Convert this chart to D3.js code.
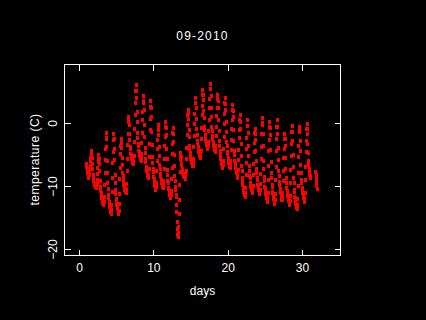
<!DOCTYPE html>
<html><head><meta charset="utf-8">
<script src="https://cdn.jsdelivr.net/npm/d3@7"></script>
<style>
html,body{margin:0;padding:0;background:#000;}
svg{display:block;}
text{font-family:"Liberation Sans",Arial,Helvetica,sans-serif;fill:#fff;font-size:12px;}
</style>
</head><body>
<svg id="chart" width="426" height="320"></svg>
<script>
// ---- data ----
const chartTitle = "09-2010";
const xLabel = "days";
const yLabel = "temperature (C)";
const xTicks = [0, 10, 20, 30];
const yTicks = [-20, -10, 0];
// hourly readings, the first one at day 0.875 (21:00 on day 0)
const startDay = 0.875;
const hourlyTemps = [
  -6.4,-6.9,-7.3,
  -7.6,-7.9,-7.8,-8.3,-8.4,-8.6,-8.2,-8.0,-7.3,-6.8,-5.9,-5.4,-4.6,-4.4,-4.9,-5.4,-6.5,-7.3,-8.2,-8.4,-9.0,-9.2,-9.5,-9.6,
  -9.8,-9.9,-10.1,-10.0,-10.2,-10.3,-10.1,-9.6,-8.9,-8.0,-7.0,-6.1,-5.4,-5.0,-5.7,-6.4,-7.6,-9.1,-10.0,-10.7,-11.1,-11.6,-11.8,-12.1,
  -12.3,-12.5,-12.6,-12.7,-12.9,-13.0,-12.4,-11.7,-9.8,-7.9,-5.8,-4.1,-2.3,-1.5,-2.5,-3.7,-6.0,-7.8,-9.5,-10.4,-11.3,-11.9,-12.5,-12.8,
  -13.3,-13.4,-13.6,-13.9,-14.1,-14.3,-13.7,-12.9,-10.8,-8.7,-6.3,-4.5,-2.6,-1.6,-2.4,-4.0,-5.8,-8.1,-9.4,-10.6,-11.2,-12.0,-12.3,-12.9,
  -13.1,-13.5,-13.6,-14.0,-14.2,-14.4,-13.9,-12.8,-11.2,-8.8,-7.0,-4.9,-3.5,-2.4,-3.1,-3.9,-5.4,-6.6,-7.8,-8.3,-9.0,-9.3,-9.8,-10.0,
  -10.2,-10.5,-10.6,-10.8,-10.9,-11.1,-10.4,-9.6,-7.6,-5.7,-3.4,-1.7,0.2,1.1,0.5,-0.2,-1.6,-2.6,-3.7,-4.1,-4.8,-5.0,-5.5,-5.6,
  -5.8,-6.1,-6.1,-6.3,-6.5,-6.4,-5.9,-5.1,-3.0,-0.9,1.4,3.2,5.2,6.1,5.2,4.0,1.9,0.2,-1.5,-2.3,-3.2,-3.6,-4.3,-4.5,
  -4.9,-5.1,-5.5,-5.6,-5.8,-6.0,-5.5,-4.9,-3.1,-1.5,0.5,1.9,3.6,4.3,3.3,2.1,-0.2,-2.1,-3.9,-4.7,-5.7,-6.1,-6.9,-7.1,
  -7.6,-7.8,-8.0,-8.4,-8.6,-8.7,-8.1,-7.3,-5.3,-3.3,-1.0,0.7,2.6,3.5,2.4,1.1,-1.4,-3.4,-5.3,-6.2,-7.2,-7.7,-8.5,-8.8,
  -9.3,-9.5,-9.9,-10.1,-10.3,-10.5,-10.0,-9.4,-7.6,-6.0,-4.0,-2.6,-0.9,-0.2,-1.0,-1.9,-3.7,-5.2,-6.6,-7.2,-8.0,-8.3,-8.9,-9.1,
  -9.4,-9.7,-9.8,-10.1,-10.2,-10.3,-9.8,-9.1,-7.3,-5.6,-3.6,-2.1,-0.5,0.3,-0.7,-1.8,-4.0,-5.7,-7.4,-8.1,-9.1,-9.5,-10.2,-10.4,
  -10.8,-11.0,-11.3,-11.6,-11.8,-11.9,-11.4,-10.7,-8.8,-7.0,-4.9,-3.3,-1.5,-0.7,-1.7,-2.9,-5.0,-6.8,-8.4,-9.2,-10.1,-10.6,-11.3,-11.6,
  -12.9,-14.1,-15.7,-16.8,-17.7,-18.0,-17.4,-16.5,-14.3,-12.1,-9.7,-7.7,-5.7,-4.7,-5.1,-5.3,-6.2,-6.6,-7.3,-7.4,-7.8,-7.9,-8.2,-8.3,
  -8.3,-8.5,-8.4,-8.6,-8.8,-8.7,-8.2,-7.5,-5.7,-3.9,-1.8,-0.3,1.4,2.2,1.5,0.7,-1.0,-2.2,-3.5,-4.0,-4.7,-5.0,-5.6,-5.7,
  -6.0,-6.3,-6.4,-6.6,-6.7,-6.8,-6.3,-5.6,-3.8,-2.0,0.0,1.5,3.2,4.0,3.2,2.4,0.7,-0.9,-1.8,-2.8,-3.1,-3.8,-4.0,-4.4,
  -4.6,-4.9,-5.0,-5.1,-5.4,-5.5,-5.0,-4.3,-2.5,-0.7,1.3,2.8,4.5,5.3,4.5,3.7,2.0,0.8,-0.6,-1.1,-1.9,-2.1,-2.7,-2.9,
  -3.2,-3.4,-3.6,-3.7,-3.9,-4.1,-3.5,-2.9,-1.2,0.5,2.4,3.9,5.5,6.2,5.4,4.4,2.5,1.0,-0.5,-1.2,-2.0,-2.4,-3.0,-3.2,
  -3.5,-3.7,-4.1,-4.2,-4.4,-4.5,-4.0,-3.5,-2.0,-0.6,1.2,2.4,3.9,4.5,3.6,2.5,0.5,-1.2,-2.8,-3.5,-4.4,-4.8,-5.5,-5.7,
  -6.1,-6.4,-6.5,-6.7,-7.0,-7.1,-6.6,-5.9,-4.0,-2.2,-0.1,1.5,3.2,4.0,3.1,2.1,0.2,-1.4,-2.9,-3.6,-4.5,-4.8,-5.5,-5.7,
  -6.0,-6.3,-6.4,-6.8,-6.9,-7.0,-6.5,-5.9,-4.2,-2.6,-0.8,0.6,2.2,2.9,2.0,1.0,-1.1,-2.7,-4.3,-5.0,-5.9,-6.2,-6.9,-7.1,
  -7.5,-7.8,-7.9,-8.1,-8.4,-8.6,-8.0,-7.4,-5.8,-4.2,-2.3,-1.0,0.6,1.3,0.3,-0.9,-3.2,-5.1,-6.8,-7.6,-8.6,-9.1,-9.8,-10.1,
  -10.4,-10.8,-11.0,-11.3,-11.4,-11.6,-11.0,-10.3,-8.2,-6.3,-4.0,-2.3,-0.4,0.5,-0.4,-1.5,-3.5,-5.2,-6.7,-7.5,-8.3,-8.7,-9.4,-9.6,
  -10.0,-10.3,-10.4,-10.6,-10.9,-11.1,-10.5,-9.9,-8.1,-6.5,-4.6,-3.1,-1.5,-0.8,-1.6,-2.6,-4.4,-5.9,-7.3,-7.9,-8.7,-9.0,-9.7,-9.9,
  -10.2,-10.5,-10.6,-10.8,-11.0,-11.2,-10.6,-9.6,-8.0,-5.6,-3.8,-1.6,-0.2,0.9,0.1,-1.6,-3.5,-5.9,-7.2,-8.5,-9.1,-10.0,-10.3,-10.8,
  -11.2,-11.6,-11.7,-11.9,-12.3,-12.4,-11.8,-11.0,-8.9,-6.8,-4.4,-2.6,-0.6,0.3,-0.7,-1.9,-4.2,-6.1,-7.9,-8.7,-9.7,-10.1,-10.9,-11.1,
  -11.5,-11.9,-12.0,-12.3,-12.5,-12.7,-12.1,-11.2,-9.0,-6.9,-4.4,-2.5,-0.5,0.5,-0.5,-1.7,-3.9,-5.8,-7.5,-8.3,-9.3,-9.7,-10.4,-10.7,
  -11.1,-11.4,-11.6,-11.7,-12.1,-12.2,-11.7,-11.0,-9.2,-7.5,-5.5,-4.0,-2.4,-1.6,-2.5,-3.5,-5.5,-7.2,-8.7,-9.4,-10.3,-10.7,-11.3,-11.5,
  -11.9,-12.2,-12.3,-12.5,-12.8,-12.9,-12.3,-11.5,-9.4,-7.4,-5.1,-3.3,-1.3,-0.4,-1.4,-2.7,-5.0,-6.9,-8.6,-9.5,-10.5,-10.9,-11.6,-11.9,
  -12.3,-12.7,-12.8,-13.0,-13.4,-13.5,-12.9,-12.0,-9.9,-7.8,-5.3,-3.5,-1.4,-0.5,-1.2,-2.7,-4.4,-6.6,-7.8,-8.9,-9.4,-10.2,-10.5,-11.0,
  -11.3,-11.7,-11.8,-11.9,-12.3,-12.4,-11.8,-11.0,-9.0,-6.9,-4.6,-2.8,-0.9,0.0,-0.8,-1.6,-3.3,-4.7,-6.0,-6.6,-7.3,-7.6,-8.2,-8.4,
  -8.7
];
// a short separate run of hourly readings late on day 31
const tailStart = 31.708;
const tailTemps = [-7.7, -8.2, -8.8, -9.4, -9.9, -10.4];

// ---- drawing ----
const W = 426, H = 320;
const svg = d3.select("#chart");
svg.append("rect").attr("width", W).attr("height", H).attr("fill", "#000");

const x = d3.scaleLinear().domain([-2.02, 35.11]).range([64.5, 340.5]);
const y = d3.scaleLinear().domain([-20.95, 9.365]).range([255.5, 64.5]);

const points = hourlyTemps.map((t, i) => ({day: startDay + i / 24, temp: t}))
  .concat(tailTemps.map((t, i) => ({day: tailStart + i / 24, temp: t})));

svg.append("g").attr("shape-rendering", "crispEdges")
  .selectAll("rect").data(points).join("rect")
  .attr("x", d => Math.round(x(d.day)) - 1)
  .attr("y", d => Math.round(y(d.temp)) - 2)
  .attr("width", 3).attr("height", 4)
  .attr("fill", "#ff0000");

function styleAxis(g) {
  g.select(".domain").remove();
  g.selectAll(".tick line").attr("stroke", "#fff").attr("shape-rendering", "crispEdges");
  g.selectAll("text").attr("fill", "#fff").style("font-size", "12px")
    .style("font-family", '"Liberation Sans", Arial, sans-serif');
}

// bottom axis
svg.append("g").attr("transform", "translate(0,255.5)")
  .call(d3.axisBottom(x).tickValues(xTicks).tickSizeInner(-6).tickSizeOuter(0).tickPadding(7.5).offset(0))
  .call(styleAxis);
// top axis (ticks only)
svg.append("g").attr("transform", "translate(0,64.5)")
  .call(d3.axisTop(x).tickValues(xTicks).tickSizeInner(-6).tickSizeOuter(0).tickFormat("").offset(0))
  .call(styleAxis);
// left axis with rotated labels
const gy = svg.append("g").attr("transform", "translate(64.5,0)")
  .call(d3.axisLeft(y).tickValues(yTicks).tickSizeInner(-6).tickSizeOuter(0).offset(0))
  .call(styleAxis);
gy.selectAll(".tick text")
  .attr("x", null).attr("dy", null)
  .attr("text-anchor", "middle")
  .attr("transform", "translate(-8,0) rotate(-90)");
// right axis (ticks only)
svg.append("g").attr("transform", "translate(340.5,0)")
  .call(d3.axisRight(y).tickValues(yTicks).tickSizeInner(-6).tickSizeOuter(0).tickFormat("").offset(0))
  .call(styleAxis);

// frame
svg.append("rect")
  .attr("x", 64.5).attr("y", 64.5).attr("width", 276).attr("height", 191)
  .attr("fill", "none").attr("stroke", "#fff").attr("stroke-width", 1)
  .attr("shape-rendering", "crispEdges");

// titles
svg.append("text").attr("x", 202.5).attr("y", 40).attr("text-anchor", "middle")
  .style("letter-spacing", "1.2px").text(chartTitle);
svg.append("text").attr("x", 202.5).attr("y", 294.5).attr("text-anchor", "middle").text(xLabel);
svg.append("text").attr("transform", "translate(38.5,159.5) rotate(-90)")
  .attr("text-anchor", "middle").style("letter-spacing", "0.5px").text(yLabel);
</script>
</body></html>
